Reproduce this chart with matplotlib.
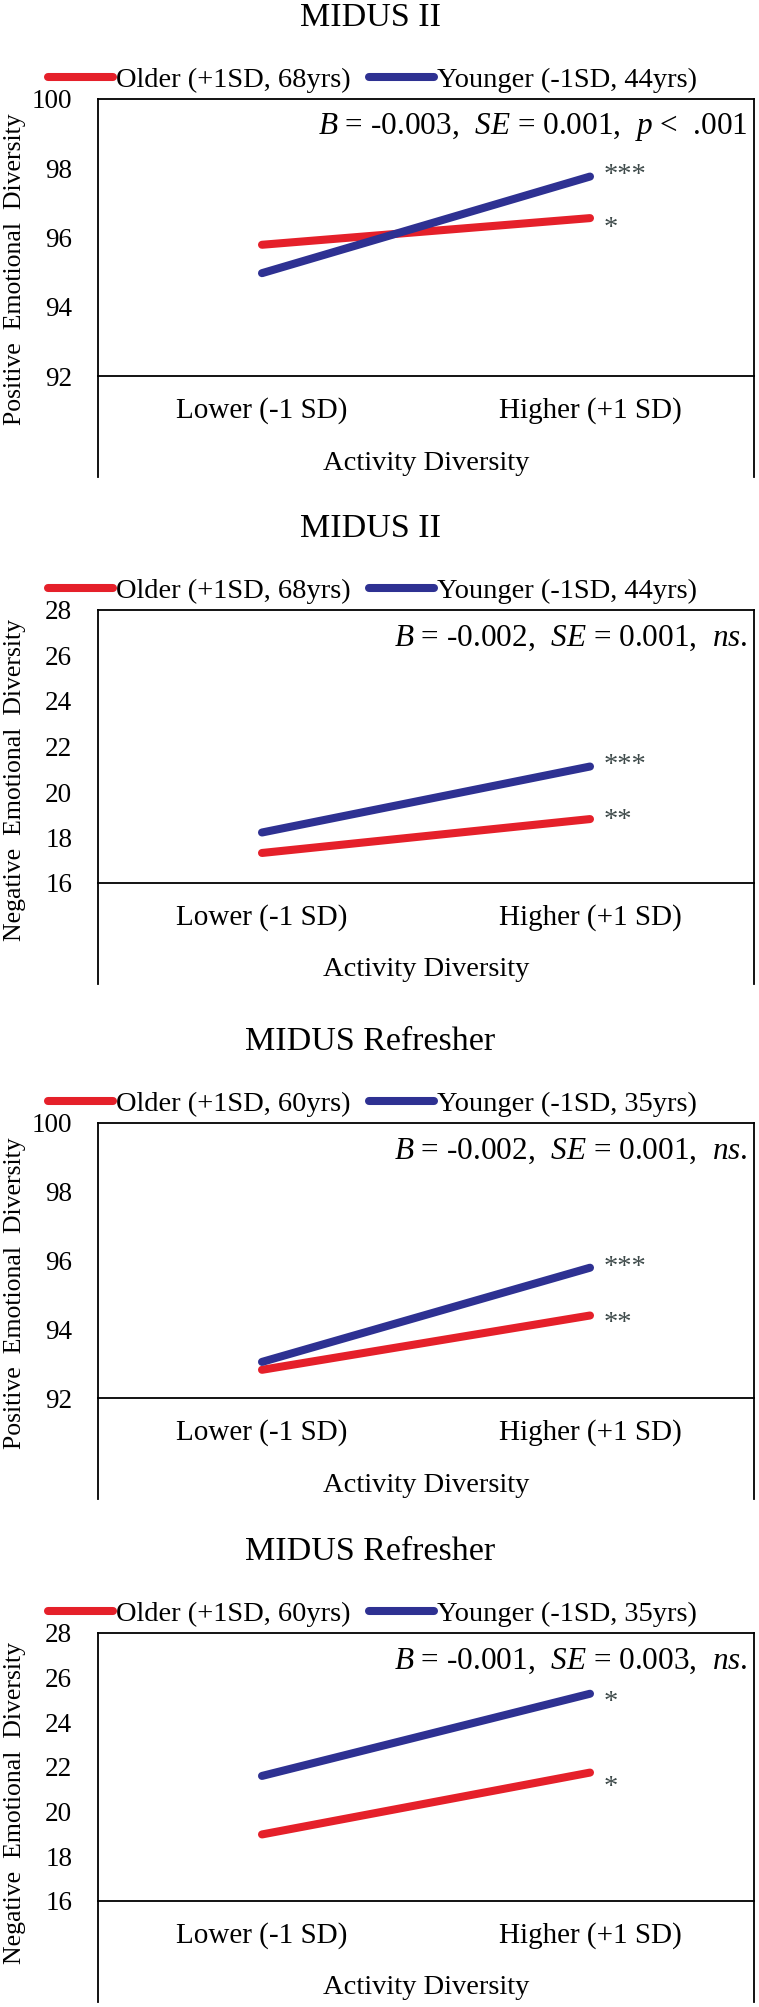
import matplotlib.pyplot as plt
import numpy as np

plt.rcParams['font.family'] = 'Liberation Serif'
plt.rcParams['mathtext.fontset'] = 'custom'
plt.rcParams['mathtext.rm'] = 'Liberation Serif'
plt.rcParams['mathtext.it'] = 'Liberation Serif:italic'

W, H = 759, 2007	#output size in pixels

# data
categories = ['Lower (-1 SD)', 'Higher (+1 SD)']
titles = ['MIDUS II', 'MIDUS II', 'MIDUS Refresher', 'MIDUS Refresher']
ylabels = ['Positive  Emotional  Diversity', 'Negative  Emotional  Diversity',
           'Positive  Emotional  Diversity', 'Negative  Emotional  Diversity']
older_labels = ['Older (+1SD, 68yrs)', 'Older (+1SD, 68yrs)',
                'Older (+1SD, 60yrs)', 'Older (+1SD, 60yrs)']
younger_labels = ['Younger (-1SD, 44yrs)', 'Younger (-1SD, 44yrs)',
                  'Younger (-1SD, 35yrs)', 'Younger (-1SD, 35yrs)']
older_vals = [[95.79, 96.56], [17.32, 18.81], [92.82, 94.40], [18.98, 21.75]]
younger_vals = [[94.97, 97.76], [18.22, 21.12], [93.05, 95.79], [21.60, 25.28]]
older_sig = ['*', '**', '**', '*']
younger_sig = ['***', '***', '***', '*']
stats = [r'$\mathit{B}$ = -0.003,  $\mathit{SE}$ = 0.001,  $\mathit{p}$ <  .001',
         r'$\mathit{B}$ = -0.002,  $\mathit{SE}$ = 0.001,  $\mathit{ns.}$',
         r'$\mathit{B}$ = -0.002,  $\mathit{SE}$ = 0.001,  $\mathit{ns.}$',
         r'$\mathit{B}$ = -0.001,  $\mathit{SE}$ = 0.003,  $\mathit{ns.}$']
yranges = [(92, 100), (16, 28), (92, 100), (16, 28)]

# layout (pixels)
tops = [99, 610, 1123, 1633]
bases = [376, 883, 1398, 1901]
L, R = 98, 754
star_up = [[-2, 10], [7, 10], [1, 9], [-6, 0]]	#older, younger

RED = '#E5202A'
BLUE = '#2E3192'
STAR = '#3E4A4A'
FS = 20.5

fig = plt.figure(figsize=(W / 100, H / 100), dpi=100)

for i in range(4):
	h = bases[i] - tops[i]
	ax = fig.add_axes([L / W, 1 - bases[i] / H, (R - L) / W, h / H])
	x = np.arange(len(categories))
	ax.plot(x, older_vals[i], color=RED, lw=5.8, solid_capstyle='round', label=older_labels[i])
	ax.plot(x, younger_vals[i], color=BLUE, lw=5.8, solid_capstyle='round', label=younger_labels[i])

	lo, hi = yranges[i]
	ax.set_xlim(-0.5, 1.5)
	ax.set_ylim(lo, hi)
	ax.set_yticks(np.arange(lo, hi + 1, 2))
	ax.set_xticks(x)
	ax.set_xticklabels(categories)
	ax.tick_params(length=0)
	ax.tick_params(axis='y', pad=18.5, labelsize=19.5)
	ax.tick_params(axis='x', pad=15, labelsize=21)
	for s in ax.spines.values():
		s.set_linewidth(1.3)
		s.set_color('black')

	#side lines continue below the axis line
	ext = 101 / h
	for xs in (0, 1):
		ax.plot([xs, xs], [0, -ext], transform=ax.transAxes, clip_on=False, color='black', lw=1.3)

	ax.text(0.5, -87 / h, 'Activity Diversity', transform=ax.transAxes,
	        ha='center', va='center', fontsize=FS)
	fig.text(15 / W, 1 - (tops[i] + 170) / H, ylabels[i], rotation=90,
	         ha='center', va='center', fontsize=18.5)
	fig.text(370 / W, 1 - (tops[i] - 73) / H, titles[i], ha='center', va='baseline', fontsize=24.5)
	ax.text(0.991, 1 - 28 / h, stats[i], transform=ax.transAxes,
	        ha='right', va='center', fontsize=22.5)

	ax.legend(loc='center left', bbox_to_anchor=(48 / W, 1 - (tops[i] - 19) / H),
	          bbox_transform=fig.transFigure, ncol=2, frameon=False,
	          handlelength=2.3, handletextpad=0.08, columnspacing=0.65,
	          borderpad=0, borderaxespad=0, fontsize=FS)

	#significance stars
	for vals, sig, up in ((older_vals[i], older_sig[i], star_up[i][0]),
	                      (younger_vals[i], younger_sig[i], star_up[i][1])):
		ax.annotate(sig, xy=(1, vals[1]), xytext=(14, up - 15), textcoords='offset pixels',
		            ha='left', va='baseline', color=STAR, fontsize=FS)

fig.savefig('out.png', dpi=100)
